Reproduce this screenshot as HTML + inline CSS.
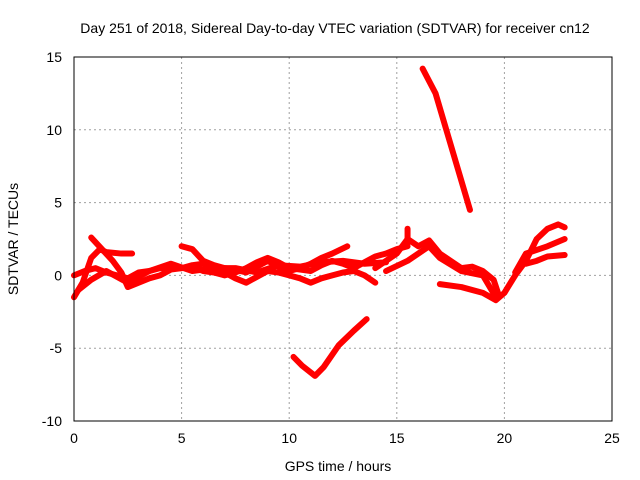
<!DOCTYPE html>
<html><head><meta charset="utf-8"><style>
body{margin:0;background:#fff}
svg{display:block;font-family:"Liberation Sans",sans-serif}
</style></head><body>
<svg id="chart" width="640" height="480">
<rect width="640" height="480" fill="#fff"/>
<text x="335" y="33" font-size="14" text-anchor="middle">Day 251 of 2018, Sidereal Day-to-day VTEC variation (SDTVAR) for receiver cn12</text>
<g id="grid"></g>
<g id="series"></g>
<rect x="74" y="57" width="538" height="364" fill="none" stroke="#000" stroke-width="1"/>
<g id="ticks"></g>
<text x="338" y="471" font-size="14" text-anchor="middle">GPS time / hours</text>
<text transform="translate(18,239) rotate(-90)" font-size="14" text-anchor="middle">SDTVAR / TECUs</text>
</svg>
<script>
const xTicks=[0,5,10,15,20,25];
const yTicks=[-10,-5,0,5,10,15];
const s1=[[0,-1.5],[0.4,-0.5],[0.8,1.2],[1.2,1.8],[1.5,1.6],[2.2,1.5],[2.7,1.5]];
const s2=[[0.8,2.6],[1.3,1.8],[1.8,1.0],[2.2,0.2],[2.5,-0.8],[3,-0.5],[3.5,-0.2],[4,0],[4.5,0.4],[5,0.5],[5.5,0.6],[6,0.3],[6.5,0.2],[7,0],[7.5,0.2],[8,0.5],[8.5,0.9],[9,1.2],[9.5,0.9],[10,0.5],[10.5,0.4],[11,0.3],[11.5,0.7],[12,1],[12.5,0.8],[13,0.5],[13.5,0.9],[14,1.3],[14.5,1.5],[15,1.8],[15.5,2.0]];
const s3=[[0,0],[0.5,0.3],[1,0.5],[1.5,0.2],[2,0],[2.5,-0.2],[3,0.2],[3.5,0.3],[4,0.5],[5,0.5],[5.5,0.7],[6,0.8],[6.5,0.5],[7,0.2],[7.5,-0.2],[8,-0.5],[8.5,-0.1],[9,0.3],[9.5,0.2],[10,0],[10.5,-0.2],[11,-0.5],[11.5,-0.2],[12,0],[12.5,0.2],[13,0.3],[13.5,0],[14,-0.5]];
const s4=[[5,2],[5.5,1.8],[6,1],[6.5,0.7],[7,0.5],[7.5,0.4],[8,0.2],[8.5,0.6],[9,1],[9.5,0.6],[10,0.3],[10.5,0.5],[11,0.8],[11.5,1.2],[12,1.5],[12.7,2.0]];
const s12=[[0.2,-1.0],[0.8,-0.3],[1.5,0.3],[2.5,-0.5],[3.5,0.3],[4.5,0.8],[5.5,0.3],[6.5,0.5],[7.5,0.5],[8.5,0.2],[9.5,0.7],[10.5,0.6],[11.5,0.9],[12.5,1.0],[13.5,0.8],[14.5,0.9]];
const s5=[[14,0.5],[15,1.5],[15.5,2.5],[16,2.0],[16.5,2.4],[17,1.5],[17.5,1.0],[18,0.5],[18.5,0.6],[19,0.3],[19.5,-0.3],[19.7,-1.2]];
const s6=[[17,-0.6],[18,-0.8],[19,-1.2],[19.6,-1.7],[20,-1.2],[20.5,0],[21,1],[21.5,2.5],[22,3.2],[22.5,3.5],[22.8,3.3]];
const s7=[[14.5,0.3],[15.5,1.0],[16.5,2.0],[17,1.2],[18,0.3],[19,0],[19.6,-1.5]];
const s8=[[20.5,0.2],[21,1.5],[22,2],[22.8,2.5]];
const s9=[[21,0.8],[21.5,1.0],[22,1.3],[22.8,1.4]];
const s10=[[10.2,-5.6],[10.6,-6.2],[11.2,-6.9],[11.6,-6.3],[12.3,-4.8],[13,-3.8],[13.6,-3]];
const s11=[[16.2,14.2],[16.8,12.5],[17.3,10],[17.8,7.5],[18.4,4.5]];
const s13=[[15.5,3.2],[15.5,2.2]];
const allSeries=[s1,s2,s3,s4,s12,s5,s6,s7,s8,s9,s10,s11,s13];
const X0=74,X1=612,Y0=421,Y1=57;
const xs=h=>X0+(h-0)/(25-0)*(X1-X0);
const ys=v=>Y0-(v+10)/25*(Y0-Y1);
const NS='http://www.w3.org/2000/svg';
const grid=document.getElementById('grid'),ticks=document.getElementById('ticks'),ser=document.getElementById('series');
function mk(t,a){const e=document.createElementNS(NS,t);for(const k in a)e.setAttribute(k,a[k]);return e;}
xTicks.forEach(t=>{
  if(t>0&&t<25){const g=mk('line',{x1:xs(t),x2:xs(t),y1:Y1,y2:Y0,stroke:'#a0a0a0','stroke-dasharray':'2,3'});
  
  
  grid.appendChild(g);}
  const tx=mk('text',{x:xs(t),y:443,'font-size':14,'text-anchor':'middle'});tx.textContent=t;
  
  
  ticks.appendChild(tx);
});
yTicks.forEach(t=>{
  if(t>-10&&t<15){const g=mk('line',{x1:X0,x2:X1,y1:ys(t),y2:ys(t),stroke:'#a0a0a0','stroke-dasharray':'2,3'});
  
  
  grid.appendChild(g);}
  const tx=mk('text',{x:62,y:ys(t)+5,'font-size':14,'text-anchor':'end'});tx.textContent=t;
  
  
  ticks.appendChild(tx);
});
allSeries.forEach((s,i)=>{
  const p=mk('polyline',{points:s.map(d=>xs(d[0])+','+ys(d[1])).join(' '),fill:'none',stroke:'#ff0000','stroke-width':6,'stroke-linejoin':'round','stroke-linecap':'round'});
  
  
  ser.appendChild(p);
});
</script>
</body></html>
